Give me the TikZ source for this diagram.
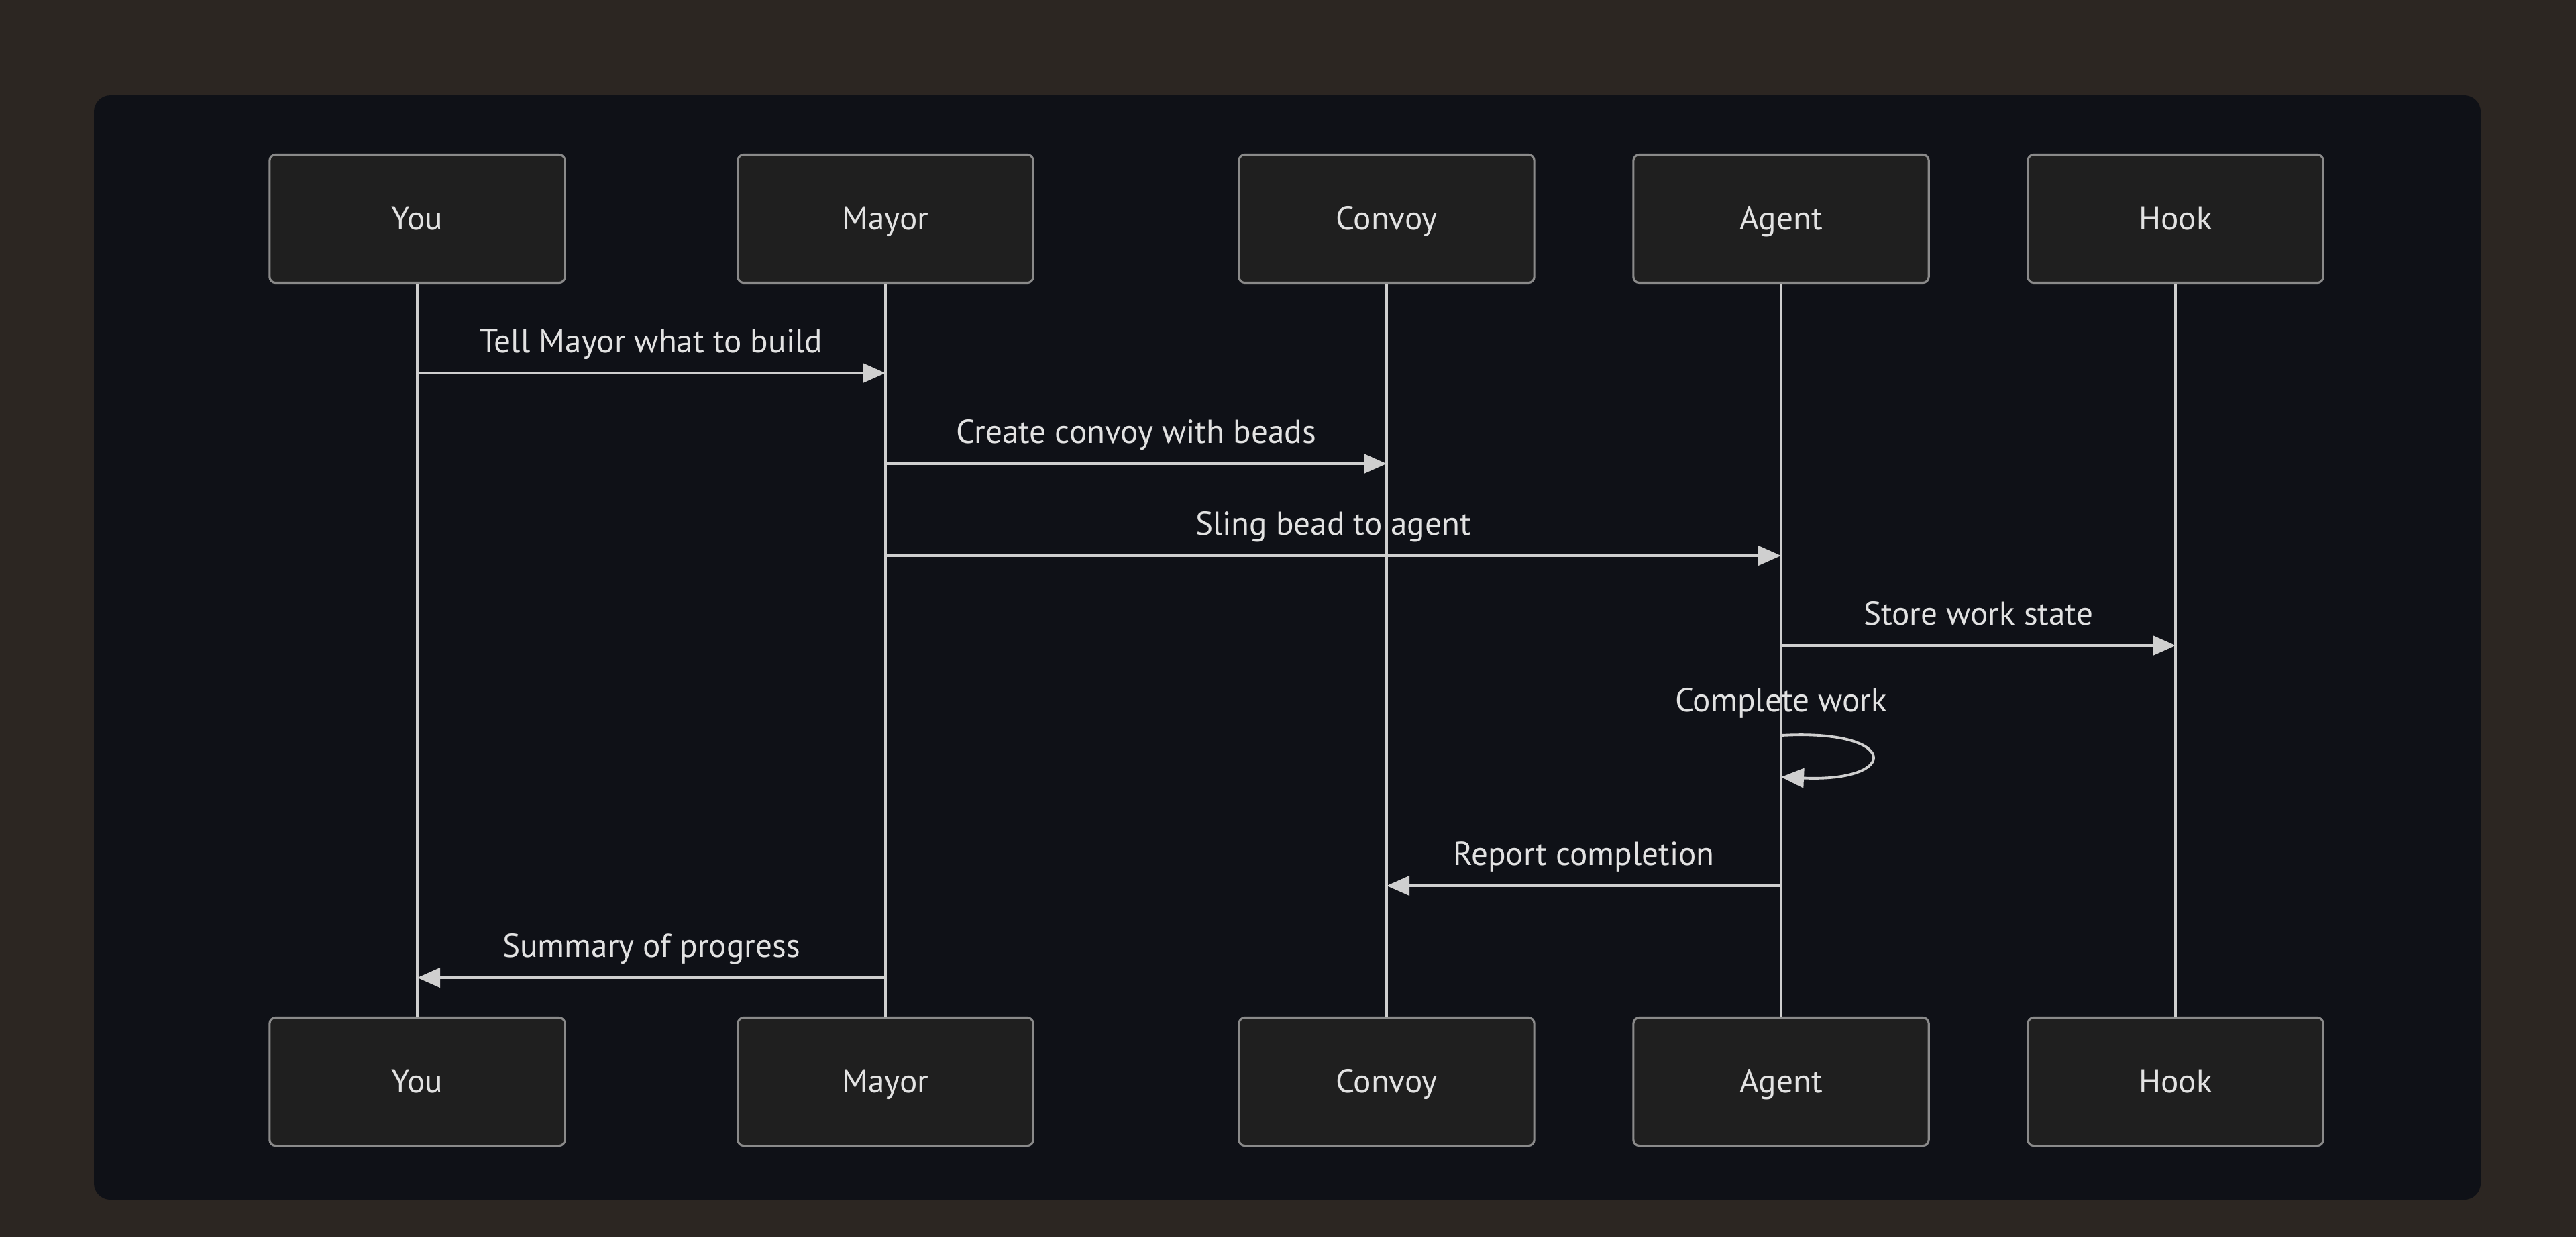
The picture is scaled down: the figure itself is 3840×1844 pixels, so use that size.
\documentclass[tikz,border=0pt]{standalone}
\usepackage{fontspec}
\setmainfont{PT Sans}
\usetikzlibrary{arrows.meta, positioning, calc}
\definecolor{pagebg}{HTML}{2C2622}
\definecolor{panelbg}{HTML}{0F1117}
\definecolor{boxfill}{HTML}{1F1F1F}
\definecolor{boxline}{HTML}{8A8A8A}
\definecolor{lifeline}{HTML}{CFCFCF}
\definecolor{msgtext}{HTML}{E2E2E2}

\begin{document}
\begin{tikzpicture}[
    x=0.01cm, y=-0.01cm,
    every node/.style={font=\fontsize{14}{16}\selectfont, text=msgtext, text height=1.55ex, text depth=0.4ex},
    actor/.style={rectangle, draw=boxline, line width=0.9pt, rounded corners=2.5pt, minimum width=4.4cm, minimum height=1.91cm, fill=boxfill, text height=1.9ex, text depth=0ex},
    life/.style={draw=lifeline, line width=1.1pt},
    msg/.style={-{Triangle[length=3.4mm, width=2.9mm]}, draw=lifeline, line width=1.1pt},
    note/.style={inner sep=1pt}
]

% background and panel
\fill[pagebg] (0,0) rectangle (3840,1844);
\fill[panelbg, rounded corners=7pt] (140,142) rectangle (3698,1788);

% actors, top row
\node[actor] (you) at (622,326) {You};
\node[actor] (mayor) at (1320,326) {Mayor};
\node[actor] (convoy) at (2067,326) {Convoy};
\node[actor] (agent) at (2655,326) {Agent};
\node[actor] (hook) at (3243,326) {Hook};

% actors, bottom row
\node[actor] (you2) at (622,1612) {You};
\node[actor] (mayor2) at (1320,1612) {Mayor};
\node[actor] (convoy2) at (2067,1612) {Convoy};
\node[actor] (agent2) at (2655,1612) {Agent};
\node[actor] (hook2) at (3243,1612) {Hook};

% lifelines
\foreach \a in {you, mayor, convoy, agent, hook}
    \draw[life] (\a.south) -- (\a2.north);

% message rows
\coordinate (m1) at (0,556);
\coordinate (m2) at (0,691);
\coordinate (m3) at (0,828);
\coordinate (m4) at (0,962);
\coordinate (m5) at (0,1096);
\coordinate (m6) at (0,1320);
\coordinate (m7) at (0,1457);

\draw[msg] (you |- m1) -- node[above=0.18cm, note] {Tell Mayor what to build} (mayor |- m1);
\draw[msg] (mayor |- m2) -- node[above=0.18cm, note] {Create convoy with beads} (convoy |- m2);
\draw[msg] (mayor |- m3) -- node[above=0.18cm, note] {Sling bead to agent} (agent |- m3);
\draw[msg] (agent |- m4) -- node[above=0.18cm, note] {Store work state} (hook |- m4);
\node[note] (selflbl) at ($(agent |- m5)+(0,-46)$) {Complete work};
\draw[msg] (agent |- m5) .. controls ++(178,-10) and ++(178,8) .. ($(agent |- m5)+(0,62)$);
\draw[msg] (agent |- m6) -- node[above=0.18cm, note] {Report completion} (convoy |- m6);
\draw[msg] (mayor |- m7) -- node[above=0.18cm, note] {Summary of progress} (you |- m7);

\end{tikzpicture}
\end{document}
